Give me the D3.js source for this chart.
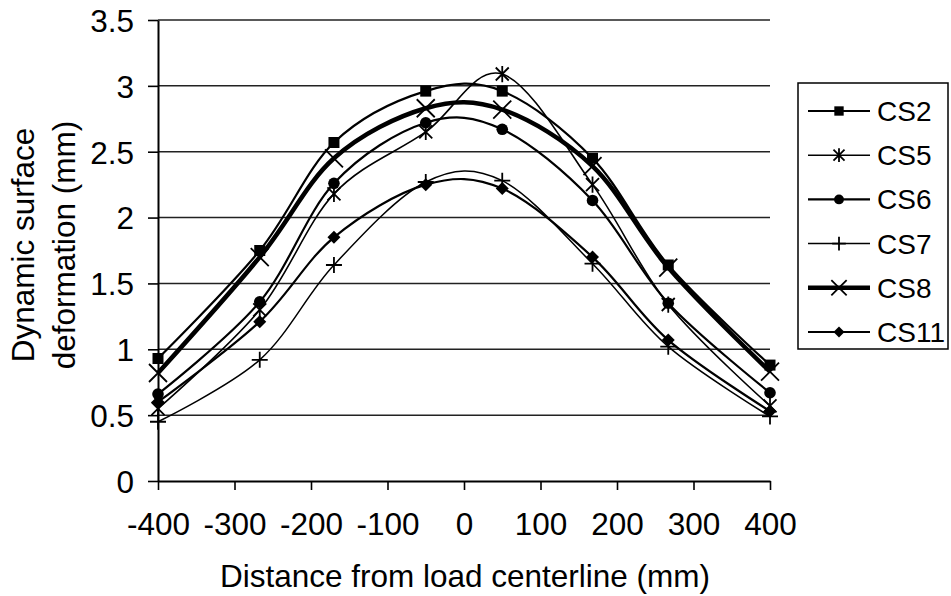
<!DOCTYPE html>
<html>
<head>
<meta charset="utf-8">
<script src="https://cdn.jsdelivr.net/npm/d3@7/dist/d3.min.js"></script>
<style>
  html, body { margin: 0; padding: 0; background: #fff; }
  svg { display: block; font-family: "Liberation Sans", Arial, sans-serif; }
</style>
</head>
<body>
<svg id="chart" width="951" height="596"></svg>
<script>
// ---- data ----
const xPositions = [-400, -267, -170, -50, 50, 168, 267, 400];
const cs2  = [0.93, 1.75, 2.57, 2.96, 2.96, 2.45, 1.64, 0.88];
const cs5  = [0.55, 1.30, 2.18, 2.65, 3.09, 2.25, 1.34, 0.57];
const cs6  = [0.66, 1.36, 2.26, 2.72, 2.67, 2.13, 1.35, 0.67];
const cs7  = [0.45, 0.92, 1.64, 2.27, 2.28, 1.65, 1.02, 0.49];
const cs8  = [0.82, 1.70, 2.45, 2.83, 2.82, 2.39, 1.62, 0.83];
const cs11 = [0.60, 1.21, 1.85, 2.25, 2.22, 1.70, 1.07, 0.53];
const seriesNames = ["CS2", "CS5", "CS6", "CS7", "CS8", "CS11"];
const yTickValues = [0, 0.5, 1, 1.5, 2, 2.5, 3, 3.5];
const yTickLabels = ["0", "0.5", "1", "1.5", "2", "2.5", "3", "3.5"];
const xTickValues = [-400, -300, -200, -100, 0, 100, 200, 300, 400];
const xTickLabels = ["-400", "-300", "-200", "-100", "0", "100", "200", "300", "400"];
const xTitle = "Distance from load centerline (mm)";
const yTitleLines = ["Dynamic surface", "deformation (mm)"];

// ---- styles ----
const styles = {
  CS2:  { marker: "square",  width: 2.2 },
  CS5:  { marker: "star",    width: 1.6 },
  CS6:  { marker: "circle",  width: 2.2 },
  CS7:  { marker: "plus",    width: 1.5 },
  CS8:  { marker: "x",       width: 4.5 },
  CS11: { marker: "diamond", width: 2.2 }
};
const values = { CS2: cs2, CS5: cs5, CS6: cs6, CS7: cs7, CS8: cs8, CS11: cs11 };

const svg = d3.select("#chart");
const x = d3.scaleLinear().domain([-400, 400]).range([158, 770]);
const y = d3.scaleLinear().domain([0, 3.5]).range([481, 20]);
const FONT = 31.5;

// gridlines
svg.append("g").selectAll("line")
  .data(yTickValues.filter(v => v > 0))
  .join("line")
  .attr("x1", x(-400)).attr("x2", x(400))
  .attr("y1", d => y(d)).attr("y2", d => y(d))
  .attr("stroke", "#222").attr("stroke-width", 1.5);

// axes
const yAxis = d3.axisLeft(y).tickValues(yTickValues)
  .tickFormat((d, i) => yTickLabels[i]).tickSize(10).tickSizeOuter(0).tickPadding(14);
const gy = svg.append("g").attr("transform", `translate(${x(-400)},0)`).call(yAxis);
const xAxis = d3.axisBottom(x).tickValues(xTickValues)
  .tickFormat((d, i) => xTickLabels[i]).tickSize(9).tickSizeOuter(0).tickPadding(23);
const gx = svg.append("g").attr("transform", `translate(0,${y(0)})`).call(xAxis);
[gx, gy].forEach(g => {
  g.select(".domain").attr("stroke", "#000").attr("stroke-width", 2);
  g.selectAll(".tick line").attr("stroke", "#000").attr("stroke-width", 1.6);
  g.selectAll(".tick text").attr("fill", "#000").attr("font-size", FONT)
    .attr("font-family", "Liberation Sans, Arial, sans-serif");
});
gy.selectAll(".tick text").attr("dy", "0.36em");

// axis titles
svg.append("text").attr("x", 465).attr("y", 587).attr("text-anchor", "middle")
  .attr("font-size", FONT).attr("fill", "#000").text(xTitle);
const yt = svg.append("text").attr("transform", "translate(34,245) rotate(-90)")
  .attr("text-anchor", "middle").attr("font-size", FONT).attr("fill", "#000");
yTitleLines.forEach((t, i) => yt.append("tspan").attr("x", 0).attr("dy", i === 0 ? 0 : 41).text(t));

// marker drawing
function drawMarker(g, type, cx, cy, s) {
  const k = s || 1;
  if (type === "square") {
    g.append("rect").attr("x", cx - 5.5 * k).attr("y", cy - 5.5 * k)
      .attr("width", 11 * k).attr("height", 11 * k).attr("fill", "#000");
  } else if (type === "circle") {
    g.append("circle").attr("cx", cx).attr("cy", cy).attr("r", 5.8 * k).attr("fill", "#000");
  } else if (type === "diamond") {
    const r = 6.5 * k;
    g.append("path").attr("d", `M${cx},${cy - r}L${cx + r},${cy}L${cx},${cy + r}L${cx - r},${cy}Z`).attr("fill", "#000");
  } else if (type === "x") {
    const r = 9 * k;
    g.append("path").attr("d", `M${cx - r},${cy - r}L${cx + r},${cy + r}M${cx - r},${cy + r}L${cx + r},${cy - r}`)
      .attr("stroke", "#000").attr("stroke-width", 1.8).attr("fill", "none");
  } else if (type === "plus") {
    const r = 8 * k;
    g.append("path").attr("d", `M${cx - r},${cy}L${cx + r},${cy}M${cx},${cy - r}L${cx},${cy + r}`)
      .attr("stroke", "#000").attr("stroke-width", 1.8).attr("fill", "none");
  } else if (type === "star") {
    const r = 6.5 * k;
    g.append("path").attr("d", `M${cx - r},${cy - r}L${cx + r},${cy + r}M${cx - r},${cy + r}L${cx + r},${cy - r}M${cx},${cy - r * 1.25}L${cx},${cy + r * 1.25}`)
      .attr("stroke", "#000").attr("stroke-width", 1.8).attr("fill", "none");
  }
}

// series lines
const line = d3.line().x(d => x(d[0])).y(d => y(d[1])).curve(d3.curveCardinal.tension(0));
const plot = svg.append("g");
seriesNames.forEach(name => {
  const pts = xPositions.map((xv, i) => [xv, values[name][i]]);
  plot.append("path").attr("d", line(pts)).attr("fill", "none")
    .attr("stroke", "#000").attr("stroke-width", styles[name].width);
});
seriesNames.forEach(name => {
  const g = plot.append("g");
  xPositions.forEach((xv, i) => drawMarker(g, styles[name].marker, x(xv), y(values[name][i]), 1));
});

// legend
const leg = svg.append("g");
leg.append("rect").attr("x", 798).attr("y", 83).attr("width", 150).attr("height", 266)
  .attr("fill", "#fff").attr("stroke", "#000").attr("stroke-width", 1.5);
seriesNames.forEach((name, i) => {
  const ly = 111 + i * 44.2;
  leg.append("line").attr("x1", 808).attr("x2", 870).attr("y1", ly).attr("y2", ly)
    .attr("stroke", "#000").attr("stroke-width", styles[name].width);
  drawMarker(leg, styles[name].marker, 839, ly, 0.85);
  leg.append("text").attr("x", 877).attr("y", ly).attr("dy", "0.36em")
    .attr("font-size", 28).attr("fill", "#000").text(name);
});
</script>
</body>
</html>
